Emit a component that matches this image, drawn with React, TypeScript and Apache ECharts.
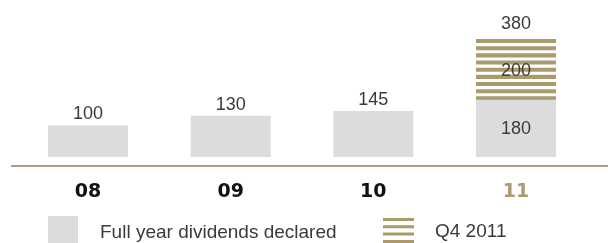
import React, { useEffect, useRef } from "react";
import * as echarts from "echarts";

const categories = ["08", "09", "10", "11"];
const fullYear = [100, 130, 145, 180];
const q4 = [null, null, null, 200];
const seriesNames = ["Full year dividends declared", "Q4 2011"];

const GOLD = "#ab9a6c";
const GREY = "#dcdcde";
const TEXT = "#3a3a3a";
const BAR_W = 80;

const stripeIcon =
  "path://M0,0H31V3H0Z M0,7.3H31V10.3H0Z M0,14.6H31V17.6H0Z M0,21.9H31V24.9H0Z";

export default function App() {
  const ref = useRef<HTMLDivElement>(null);
  useEffect(() => {
    if (!ref.current) return;
    const chart = echarts.init(ref.current, null, { renderer: "svg" });
    const q4Data = q4
      .map((v, i) => (v == null ? null : [i, v, fullYear[i]]))
      .filter((d) => d !== null);
    const legendText = {
      fontFamily: "Liberation Sans",
      fontSize: 19,
      color: TEXT,
    };
    chart.setOption({
      animation: false,
      grid: { left: 16.7, right: 20.7, top: 30, bottom: 86 },
      xAxis: {
        type: "category",
        data: categories,
        axisLine: { show: false },
        axisTick: { show: false },
        axisLabel: {
          margin: 23,
          fontFamily: "DejaVu Sans",
          fontWeight: "bold",
          fontSize: 19,
          color: (_v: any, idx: number) => (idx === 3 ? GOLD : "#111111"),
        },
      },
      yAxis: { type: "value", min: 0, max: 400, show: false },
      legend: [
        {
          data: [{ name: seriesNames[0], icon: "rect" }],
          left: 48,
          top: 216,
          padding: 0,
          itemWidth: 30,
          itemHeight: 30,
          selectedMode: false,
          textStyle: { ...legendText, padding: [0, 0, 0, 17] },
        },
        {
          data: [{ name: seriesNames[1], icon: stripeIcon }],
          left: 383,
          top: 218,
          padding: 0,
          itemWidth: 31,
          itemHeight: 25,
          selectedMode: false,
          textStyle: { ...legendText, padding: [0, 0, 0, 16] },
        },
      ],
      graphic: [
        {
          type: "line",
          shape: { x1: 11, y1: 166, x2: 608, y2: 166 },
          style: { stroke: "#b0a076", lineWidth: 2 },
        },
      ],
      series: [
        {
          name: seriesNames[0],
          type: "bar",
          barWidth: BAR_W,
          itemStyle: { color: GREY },
          label: {
            show: true,
            position: "top",
            distance: 3,
            fontFamily: "Liberation Sans",
            fontSize: 18,
            color: TEXT,
          },
          data: fullYear.map((v, i) =>
            q4[i] != null ? { value: v, label: { position: "inside" } } : v
          ),
        },
        {
          name: seriesNames[1],
          type: "custom",
          itemStyle: { color: GOLD },
          data: q4Data,
          renderItem: (_params: any, api: any) => {
            const idx = api.value(0);
            const v = api.value(1);
            const base = api.value(2);
            const bottom = api.coord([idx, base]);
            const top = api.coord([idx, base + v]);
            const x = bottom[0] - BAR_W / 2;
            const period = 7.17;
            const thick = 4.1;
            const children: any[] = [];
            let y = bottom[1] + 0.6;
            while (y - thick >= top[1] - 0.5) {
              children.push({
                type: "rect",
                shape: { x, y: y - thick, width: BAR_W, height: thick },
                style: { fill: GOLD },
              });
              y -= period;
            }
            children.push({
              type: "text",
              style: {
                text: String(v),
                x: bottom[0],
                y: (bottom[1] + top[1]) / 2 + 1.5,
                align: "center",
                verticalAlign: "middle",
                fontFamily: "Liberation Sans",
                fontSize: 18,
                fill: TEXT,
              },
            });
            children.push({
              type: "text",
              style: {
                text: String(base + v),
                x: bottom[0],
                y: top[1] - 4,
                align: "center",
                verticalAlign: "bottom",
                fontFamily: "Liberation Sans",
                fontSize: 18,
                fill: TEXT,
              },
            });
            return { type: "group", children };
          },
        },
      ],
    });
    return () => chart.dispose();
  }, []);
  return (
    <div
      ref={ref}
      style={{ position: "fixed", left: 0, top: 0, width: 608, height: 243 }}
    />
  );
}
